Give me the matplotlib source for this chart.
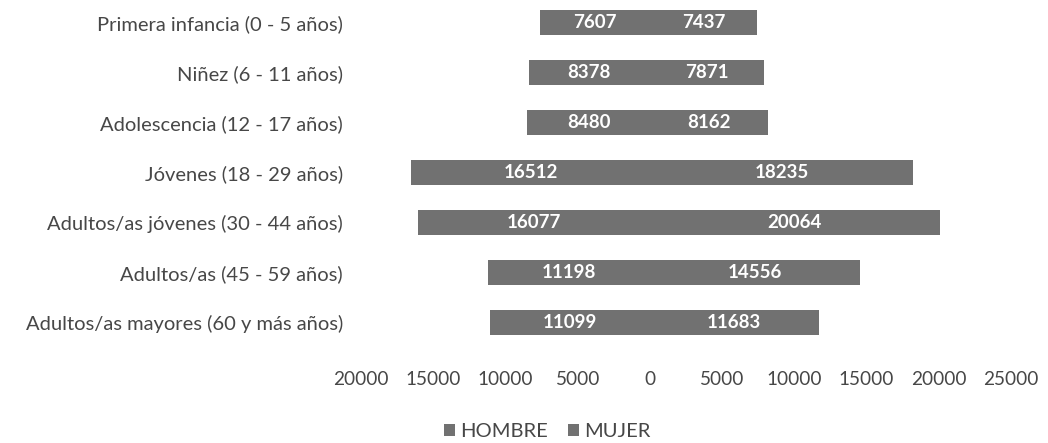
import matplotlib
matplotlib.use("Agg")
import matplotlib.pyplot as plt
import numpy as np

categories = [
    "Primera infancia (0 - 5 años)",
    "Niñez (6 - 11 años)",
    "Adolescencia (12 - 17 años)",
    "Jóvenes (18 - 29 años)",
    "Adultos/as jóvenes (30 - 44 años)",
    "Adultos/as (45 - 59 años)",
    "Adultos/as mayores (60 y más años)",
]
hombre = [7607, 8378, 8480, 16512, 16077, 11198, 11099]
mujer = [7437, 7871, 8162, 18235, 20064, 14556, 11683]
xticks = [-20000, -15000, -10000, -5000, 0, 5000, 10000, 15000, 20000, 25000]

plt.rcParams['font.family'] = ['Lato', 'DejaVu Sans']

fig = plt.figure(figsize=(10.48, 4.43), dpi=100)
ax = fig.add_axes([0.3445, 0.2156, 0.6202, 0.7844])

y = np.arange(len(categories))
bar_color = '#717171'
text_color = '#474747'
bh = ax.barh(y, [-v for v in hombre], height=0.5, color=bar_color,
             linewidth=0, label='HOMBRE')
bm = ax.barh(y, mujer, height=0.5, color=bar_color,
             linewidth=0, label='MUJER')

ax.bar_label(bh, labels=[str(v) for v in hombre], label_type='center',
             color='white', fontsize=13.5, fontweight='bold')
ax.bar_label(bm, labels=[str(v) for v in mujer], label_type='center',
             color='white', fontsize=13.5, fontweight='bold')

ax.set_xlim(-20000, 25000)
ax.set_ylim(6.5, -0.45)
ax.set_xticks(xticks)
ax.set_xticklabels([str(abs(t)) for t in xticks], color=text_color, fontsize=13.7)
ax.set_yticks(y)
ax.set_yticklabels(categories, color=text_color, fontsize=14.5)
ax.tick_params(axis='x', length=0, pad=17)
ax.tick_params(axis='y', length=0, pad=13)
for s in ax.spines.values():
    s.set_visible(False)

leg = fig.legend(handles=[bh, bm], labels=['HOMBRE', 'MUJER'], loc='center',
                 bbox_to_anchor=(0.522, 0.025), ncol=2, frameon=False,
                 fontsize=14.5, handlelength=0.55, handleheight=0.55,
                 handletextpad=0.25, columnspacing=1.0)
for t in leg.get_texts():
    t.set_color(text_color)

fig.savefig("out.png", dpi=100)
